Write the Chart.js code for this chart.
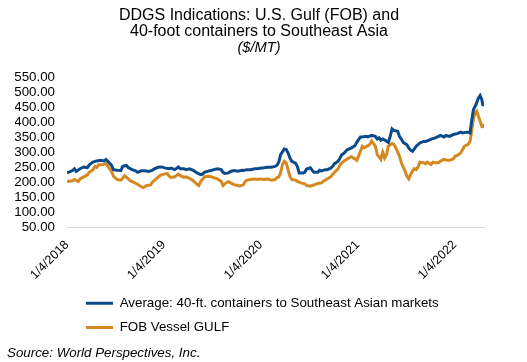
<!DOCTYPE html>
<html>
<head>
<meta charset="utf-8">
<title>DDGS Indications</title>
<script src="https://cdn.jsdelivr.net/npm/chart.js@4.4.1/dist/chart.umd.min.js"></script>
<style>
    html, body { margin: 0; padding: 0; background: #fff; }
    #wrap { position: relative; width: 527px; height: 362px; }
    #source {
        position: absolute; left: 7px; top: 345px;
        font: italic 13.33px Arial, "Liberation Sans", sans-serif;
        line-height: 15px; color: #000; white-space: nowrap;
    }
</style>
</head>
<body>
<div id="wrap">
    <canvas id="ddgsChart" width="527" height="362"></canvas>
    <div id="source">Source: World Perspectives, Inc.</div>
</div>
<script>
// Weeks since 1/4/2018 and prices ($/MT)
const containerWeeks = [0, 3, 4, 5, 7, 9, 11, 12, 14, 16, 18, 20, 21, 22, 24, 25, 27, 29, 30, 32, 33, 35, 37, 38, 40, 42, 44, 46, 47, 49,
    51, 53, 55, 56, 58, 60, 61, 63, 64, 66, 68, 70, 72, 73,
    74, 76, 78, 79, 81, 83, 84, 85, 87, 88, 90, 92, 94, 95, 97, 99, 101, 103, 104, 106, 108, 110, 112, 113, 114, 115, 117, 118, 119, 120,
    121, 123, 124, 125, 127, 128, 129, 131, 132, 133, 135, 136, 137, 139, 140, 142, 143, 144, 146, 147, 148,
    149, 151, 153, 155, 156, 158, 159, 161, 162, 164, 166, 167, 168, 169, 170, 172, 173, 174, 175, 176, 178, 179, 180, 181, 183, 184, 185,
    186, 187, 188, 190, 192, 193, 195, 196, 198, 200, 201, 203, 204, 206, 208, 210, 212, 213, 215, 216, 217, 217.7, 218.8, 220.2, 221.5,
    222.4, 223.3, 223.8, 224.5];
const containerPrices = [232, 240, 246, 237, 246, 252, 250, 259, 268, 272, 274, 272, 277, 271, 257, 243, 241, 240, 254, 257, 250, 243, 239, 234, 239, 239, 237, 241, 246, 251,
    252, 248, 246, 248, 243, 252, 246, 246, 243, 246, 241, 232, 226, 228,
    234, 238, 241, 243, 246, 243, 234, 230, 232, 237, 240, 238, 241, 240, 243, 243, 246, 247, 248, 249, 251, 251, 254, 257, 268, 293, 312, 310, 299, 282,
    271, 265, 254, 232, 232, 234, 245, 249, 241, 234, 234, 241, 239, 243, 243, 248, 254, 263, 271, 282, 293,
    297, 310, 315, 323, 334, 352, 352, 354, 352, 357, 354, 345, 349, 341, 345, 338, 334, 354, 379, 374, 371, 354, 345, 334, 326, 315, 308,
    304, 312, 321, 332, 337, 337, 341, 345, 348, 354, 357, 352, 357, 354, 360, 363, 368, 365, 368, 368, 365, 399, 443, 460, 482,
    490, 477, 460, 457];

const fobWeeks = [0, 3, 4, 6, 7, 9, 11, 12, 14, 15, 16, 17, 19, 21, 22, 24, 25, 27, 29, 30, 31, 33, 34, 36, 38, 40, 41, 43, 45, 46,
    48, 50, 52, 54, 55, 56, 58, 60, 61, 63, 64, 66, 68, 70, 71, 72,
    74, 76, 78, 79, 81, 83, 84, 86, 87, 88, 90, 92, 93, 95, 96, 97, 99, 101, 103, 104, 106, 108, 110, 112, 113, 114, 115, 116, 117, 118,
    119, 120, 121, 123, 124, 126, 128, 129, 131, 132, 133, 135, 137, 138, 140, 142, 143, 144, 146, 147,
    149, 151, 153, 155, 156, 158, 159, 160, 162, 163, 164, 166, 167, 168, 169, 170, 171, 172, 173, 175, 176, 177, 179, 180, 181, 182, 183,
    184, 185, 186, 187, 188, 189, 190, 192, 193, 194, 196, 197, 198, 200, 201, 203, 205, 206, 208, 209, 210, 212, 213, 214, 216, 217,
    217.7, 218.8, 219.7, 220.6, 221.5, 222.4, 223.3, 224, 224.5];
const fobPrices = [203, 206, 210, 203, 212, 219, 226, 234, 243, 254, 250, 259, 259, 263, 254, 237, 221, 210, 208, 214, 223, 212, 206, 201, 194, 186, 183, 190, 192, 201,
    212, 223, 228, 230, 221, 217, 219, 228, 223, 217, 219, 214, 206, 194, 190, 203,
    219, 221, 219, 216, 212, 204, 190, 201, 203, 199, 193, 190, 188, 193, 204, 208, 210, 212, 210, 212, 210, 212, 208, 210, 216, 219, 232, 260, 271, 266,
    243, 221, 210, 208, 204, 199, 196, 190, 188, 190, 192, 197, 199, 204, 212, 219, 227, 234, 246, 260,
    271, 279, 286, 279, 274, 304, 321, 316, 323, 327, 338, 321, 293, 286, 277, 301, 282, 293, 321, 330, 327, 316, 288, 266, 252, 238, 221,
    212, 227, 238, 246, 243, 252, 268, 266, 263, 268, 260, 268, 266, 266, 271, 277, 274, 274, 279, 288, 290, 299, 310, 321, 327, 338,
    366, 412, 432, 438, 421, 404, 388, 390, 382];

// Axis ticks: weeks where each label sits, and the labels
const tickWeeks = [0, 52.14, 104.29, 156.57, 208.71];
const tickLabels = ['1/4/2018', '1/4/2019', '1/4/2020', '1/4/2021', '1/4/2022'];

const seriesNames = ['Average: 40-ft. containers to Southeast Asian markets', 'FOB Vessel GULF'];
const blue = '#0b4a8a';
const orange = '#d4881f';

Chart.defaults.font.family = 'Arial, "Liberation Sans", sans-serif';
Chart.defaults.color = '#000';

function toPoints(xs, ys) {
    return xs.map((x, i) => ({ x: x, y: ys[i] }));
}

function drawChart() {
    const ctx = document.getElementById('ddgsChart').getContext('2d');

    new Chart(ctx, {
        type: 'line',
        data: {
            datasets: [{
                label: seriesNames[0],
                data: toPoints(containerWeeks, containerPrices),
                borderColor: blue,
                backgroundColor: blue,
                borderWidth: 3,
                pointRadius: 0,
                tension: 0
            }, {
                label: seriesNames[1],
                data: toPoints(fobWeeks, fobPrices),
                borderColor: orange,
                backgroundColor: orange,
                borderWidth: 3,
                pointRadius: 0,
                tension: 0
            }]
        },
        options: {
            responsive: false,
            animation: false,
            layout: {
                padding: { left: 15, right: 24, top: 0, bottom: 17.8 }
            },
            plugins: {
                title: {
                    display: true,
                    text: ['DDGS Indications: U.S. Gulf (FOB) and', '40-foot containers to Southeast Asia'],
                    font: { size: 16, weight: 'normal', lineHeight: 1.0375 },
                    padding: { top: 7, bottom: 0 }
                },
                subtitle: {
                    display: true,
                    text: '($/MT)',
                    font: { size: 14.67, style: 'italic', lineHeight: 1.1 },
                    padding: { top: 0, bottom: 21.2 }
                },
                legend: {
                    position: 'bottom',
                    align: 'start',
                    fullSize: false,
                    labels: {
                        usePointStyle: true,
                        pointStyle: 'line',
                        pointStyleWidth: 27,
                        padding: 11,
                        font: { size: 13.33 }
                    }
                },
                tooltip: { enabled: false }
            },
            scales: {
                x: {
                    type: 'linear',
                    min: 0,
                    max: 224.5,
                    afterBuildTicks: scale => {
                        scale.ticks = tickWeeks.map(v => ({ value: v }));
                    },
                    afterFit: scale => { scale.height = 58; },
                    grid: { display: false, drawTicks: false },
                    border: { display: true, color: '#d9d9d9', width: 1 },
                    ticks: {
                        autoSkip: false,
                        minRotation: 45,
                        maxRotation: 45,
                        padding: 10,
                        font: { size: 12.5 },
                        callback: (value, index) => tickLabels[index]
                    }
                },
                y: {
                    min: 50,
                    max: 550,
                    afterFit: scale => { scale.width = 52; },
                    grid: { display: false, drawTicks: false },
                    border: { display: false },
                    ticks: {
                        stepSize: 50,
                        autoSkip: false,
                        padding: 12,
                        font: { size: 13.33 },
                        callback: value => value.toFixed(2)
                    }
                },
                yRight: {
                    position: 'right',
                    afterFit: scale => { scale.width = 19; },
                    grid: { display: false, drawTicks: false },
                    border: { display: false },
                    ticks: { display: false }
                }
            }
        },
        plugins: [{
            // nudge the legend block right, to where the reference starts its line samples
            id: 'legendShift',
            afterLayout(chart) {
                chart.legend.left += 8;
                chart.legend.right += 8;
            }
        }]
    });
}

document.addEventListener('DOMContentLoaded', drawChart);
</script>
</body>
</html>
